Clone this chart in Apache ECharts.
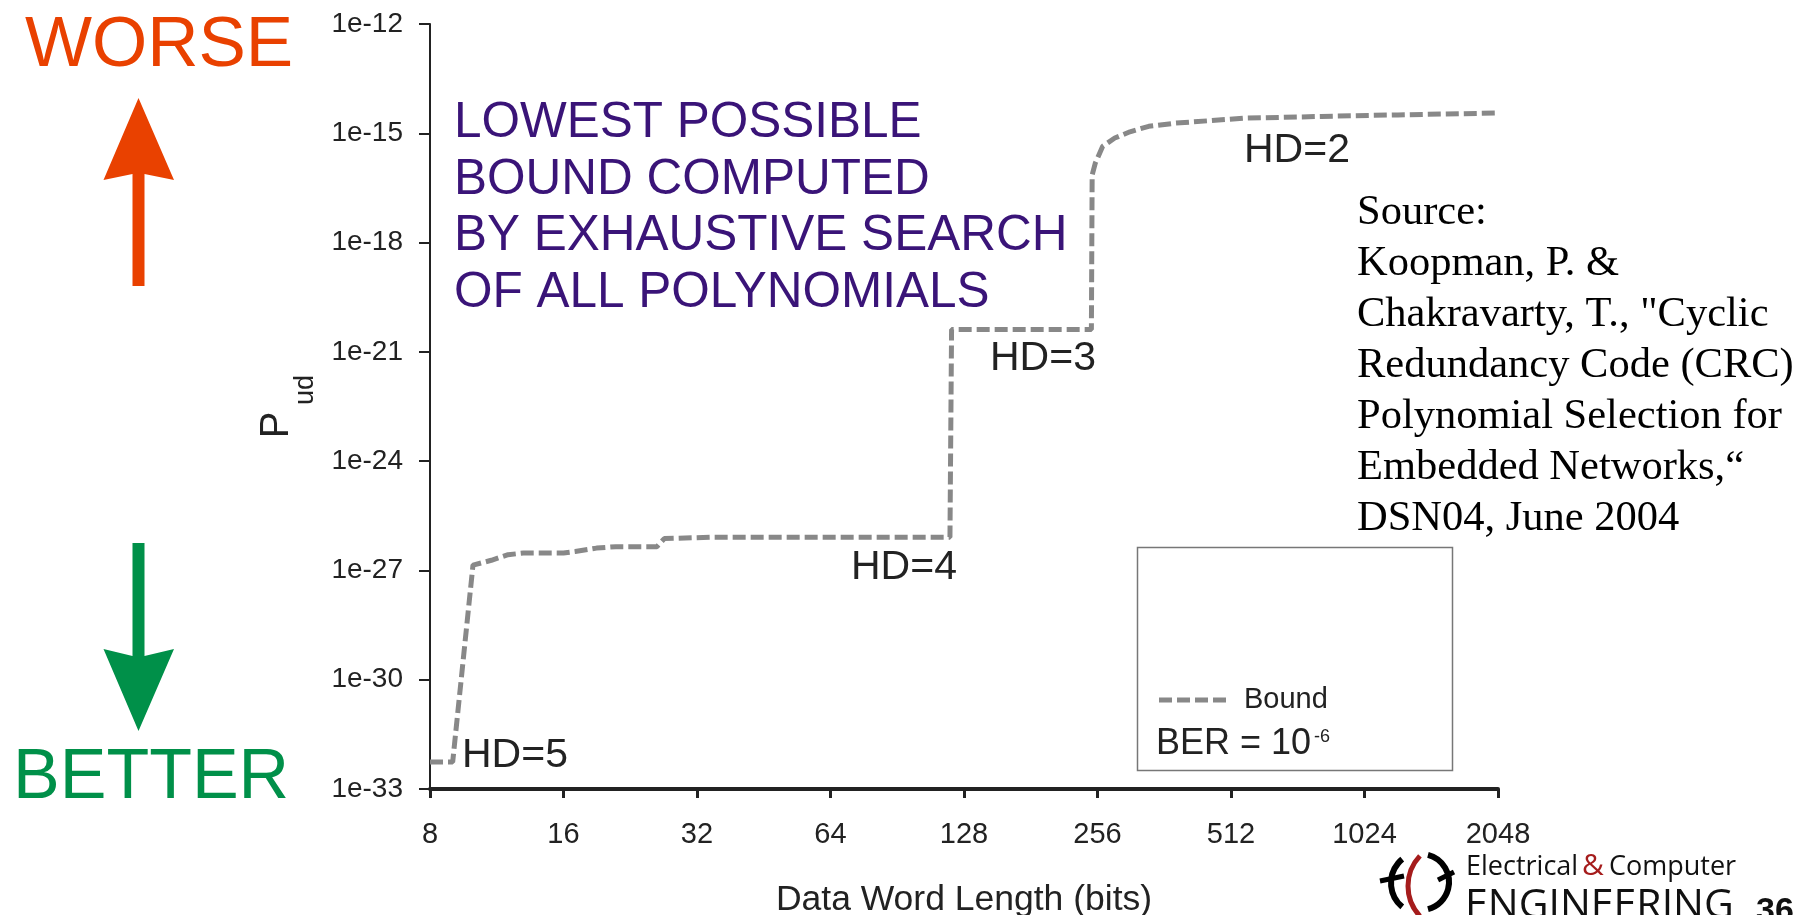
<!DOCTYPE html>
<html><head><meta charset="utf-8">
<script src="https://cdn.jsdelivr.net/npm/echarts@6/dist/echarts.min.js"></script>
<style>html,body{margin:0;padding:0;background:#fff}#c{width:1811px;height:915px}</style>
</head><body><div id="c"></div>
<script>
// Data word length (bits) and lowest possible P_ud bound (BER = 1e-6)
const wordLengths = [8, 9, 10, 11, 12, 13, 16, 17, 19, 21, 26, 27, 35, 119, 120, 248, 249, 253, 263, 280, 303, 334, 384, 549, 818, 1218, 2048];
const pudBound = [5.5e-33, 5.5e-33, 1.4e-27, 1.9e-27, 2.7e-27, 3.0e-27, 3.0e-27, 3.3e-27, 4.1e-27, 4.5e-27, 4.5e-27, 7.5e-27, 8.2e-27, 8.2e-27, 4.1e-21, 4.1e-21, 7.2e-17, 1.5e-16, 4.4e-16, 7.4e-16, 1.1e-15, 1.55e-15, 1.9e-15, 2.6e-15, 2.9e-15, 3.2e-15, 3.6e-15];
const xTickValues = [8, 16, 32, 64, 128, 256, 512, 1024, 2048];
const xTickLabels = ['8', '16', '32', '64', '128', '256', '512', '1024', '2048'];
const yTickExponents = [-33, -30, -27, -24, -21, -18, -15, -12];
const yTickLabels = ['1e-33', '1e-30', '1e-27', '1e-24', '1e-21', '1e-18', '1e-15', '1e-12'];
const hdLabels = ['HD=5', 'HD=4', 'HD=3', 'HD=2'];
const seriesName = 'Bound';

const SANS = '"Liberation Sans", Arial, sans-serif';
const SERIF = '"Liberation Serif", "Times New Roman", serif';
const LOGO = '"Open Sans", sans-serif';

function txt(text, x, y, font, fill, extra) {
  return Object.assign({type: 'text', x: x, y: y, silent: true,
    style: {text: text, font: font, fill: fill, align: 'left', verticalAlign: 'middle'}}, extra || {});
}
function rtxt(text, x, y, font) {
  return {type: 'text', x: x, y: y, silent: true, rotation: Math.PI / 2,
    style: {text: text, font: font, fill: '#222', align: 'center', verticalAlign: 'middle'}};
}

const chart = echarts.init(document.getElementById('c'), null, {renderer: 'canvas'});
const option = {
  animation: false,
  backgroundColor: '#ffffff',
  textStyle: {fontFamily: SANS},
  grid: {left: 430, right: 313, top: 24, bottom: 126, containLabel: false, outerBoundsMode: 'none'},
  xAxis: {
    type: 'log', logBase: 2, min: 8, max: 2048,
    axisLine: {show: true, onZero: false, lineStyle: {color: '#222', width: 4}},
    axisTick: {show: true, length: 9, lineStyle: {color: '#222', width: 3}},
    axisLabel: {fontSize: 29, color: '#222', margin: 31, fontFamily: SANS,
      formatter: function (v) { const i = xTickValues.indexOf(Math.round(v)); return i >= 0 ? xTickLabels[i] : ''; }},
    splitLine: {show: false}, minorTick: {show: false},
    name: 'Data Word Length (bits)', nameLocation: 'middle', nameGap: 93,
    nameTextStyle: {fontSize: 35.5, color: '#222', fontFamily: SANS}
  },
  yAxis: {
    type: 'value', min: -33, max: -12, interval: 3,
    axisLine: {show: true, onZero: false, lineStyle: {color: '#222', width: 2}},
    axisTick: {show: true, length: 11, lineStyle: {color: '#222', width: 2}},
    axisLabel: {fontSize: 28, color: '#222', margin: 27, fontFamily: SANS,
      formatter: function (v) { const i = yTickExponents.indexOf(Math.round(v)); return i >= 0 ? yTickLabels[i] : ''; }},
    splitLine: {show: false}
  },
  legend: {
    data: [seriesName], left: 1159, top: 685, padding: 0, itemGap: 0,
    itemWidth: 67, itemHeight: 5, selectedMode: false,
    icon: 'path://M0,0h13v5h-13z M18,0h13v5h-13z M36,0h13v5h-13z M54,0h13v5h-13z',
    itemStyle: {color: '#888888', borderWidth: 0},
    textStyle: {fontSize: 29, color: '#222', lineHeight: 30, padding: [0, 0, 0, 13], fontFamily: SANS}
  },
  series: [{
    name: seriesName, type: 'line', symbol: 'none', showSymbol: false,
    data: wordLengths.map(function (w, i) { return [w, Math.log10(pudBound[i])]; }),
    lineStyle: {color: '#888888', width: 5, type: [13, 5]},
    itemStyle: {color: '#888888'}
  }],
  graphic: {elements: [
    // WORSE / BETTER arrows
    txt('WORSE', 25, 46, '71px ' + SANS, '#E94100'),
    {type: 'polygon', silent: true, shape: {points: [[138.5, 98], [174, 180], [144.5, 174], [144.5, 286], [132.5, 286], [132.5, 174], [103.5, 180]]}, style: {fill: '#E94100'}},
    {type: 'polygon', silent: true, shape: {points: [[132.5, 543], [144.5, 543], [144.5, 656], [174, 649], [138.5, 731], [103.5, 649], [132.5, 656]]}, style: {fill: '#009049'}},
    txt('BETTER', 13, 779, '70px ' + SANS, '#009049'),
    // Y axis title P_ud
    rtxt('P', 277, 425, '40px ' + SANS),
    rtxt('ud', 306, 390, '27px ' + SANS),
    // annotation block
    {type: 'text', x: 454, y: 95, silent: true, style: {text: 'LOWEST POSSIBLE\nBOUND COMPUTED\nBY EXHAUSTIVE SEARCH\nOF ALL POLYNOMIALS',
      font: '49.5px ' + SANS, fill: '#3A1478', lineHeight: 56.7, align: 'left', verticalAlign: 'top'}},
    // HD labels
    txt(hdLabels[0], 462, 756, '41px ' + SANS, '#222'),
    txt(hdLabels[1], 851, 568, '41px ' + SANS, '#222'),
    txt(hdLabels[2], 990, 359, '41px ' + SANS, '#222'),
    txt(hdLabels[3], 1244, 151, '41px ' + SANS, '#222'),
    // Source
    {type: 'text', x: 1357, y: 187, silent: true, style: {text: 'Source:\nKoopman, P. &\nChakravarty, T., "Cyclic\nRedundancy Code (CRC)\nPolynomial Selection for\nEmbedded Networks,\u201C\nDSN04, June 2004',
      font: '42.5px ' + SERIF, fill: '#000', lineHeight: 51, align: 'left', verticalAlign: 'top'}},
    // legend frame and BER note
    {type: 'rect', silent: true, shape: {x: 1137.5, y: 547.5, width: 315, height: 223}, style: {fill: null, stroke: '#777', lineWidth: 1.5}},
    txt('BER = 10', 1156, 744, '36px ' + SANS, '#222'),
    txt('-6', 1314, 737, '18px ' + SANS, '#222'),
    // logo
    {type: 'arc', silent: true, shape: {cx: 1452, cy: 886, r: 44, startAngle: Math.PI * 0.76, endAngle: Math.PI * 1.24, clockwise: true}, style: {fill: null, stroke: '#A51C1C', lineWidth: 5}},
    {type: 'arc', silent: true, shape: {cx: 1422, cy: 883, r: 31, startAngle: Math.PI * 0.72, endAngle: Math.PI * 1.28, clockwise: true}, style: {fill: null, stroke: '#000', lineWidth: 6}},
    {type: 'line', silent: true, shape: {x1: 1380, y1: 881, x2: 1404, y2: 876}, style: {stroke: '#000', lineWidth: 5}},
    {type: 'arc', silent: true, shape: {cx: 1421, cy: 882, r: 28, startAngle: -Math.PI * 0.42, endAngle: Math.PI * 0.42, clockwise: true}, style: {fill: null, stroke: '#000', lineWidth: 6}},
    {type: 'line', silent: true, shape: {x1: 1438, y1: 880, x2: 1454, y2: 872}, style: {stroke: '#000', lineWidth: 5}},
    txt('Electrical', 1466, 867, '27px ' + LOGO, '#111'),
    txt('&', 1582, 866, '30px ' + LOGO, '#A51C1C'),
    txt('Computer', 1609, 867, '27px ' + LOGO, '#111'),
    txt('ENGINEERING', 1465, 906, '41px ' + LOGO, '#111'),
    txt('36', 1756, 912, 'bold 34px ' + SANS, '#111')
  ]}
};
chart.setOption(option);
</script></body></html>
